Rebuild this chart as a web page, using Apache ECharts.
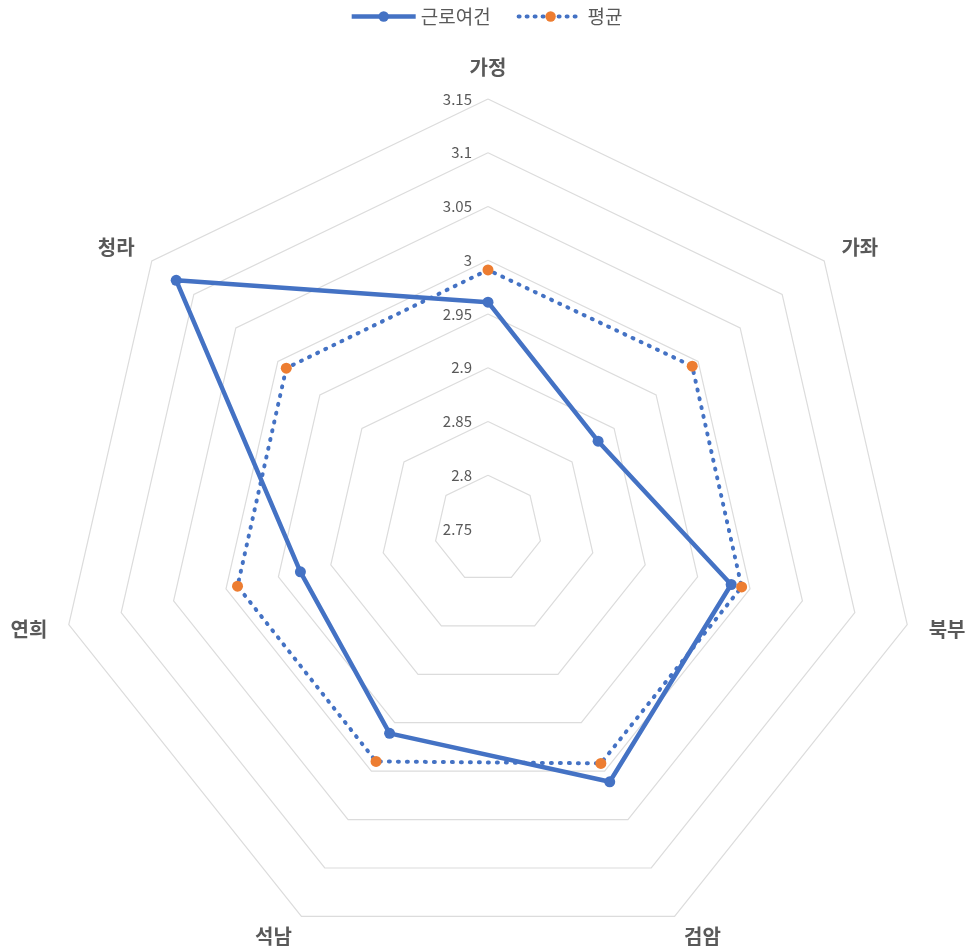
<!DOCTYPE html>
<html><head><meta charset="utf-8">
<script src="https://cdn.jsdelivr.net/npm/echarts@6/dist/echarts.min.js"></script>
<style>html,body{margin:0;padding:0;background:#fff}#c{width:972px;height:948px}</style>
</head><body><div id="c"></div>
<script>
// categories listed clockwise from the top
const categories = ['가정','가좌','북부','검암','석남','연희','청라'];
const workValues = [2.961, 2.881, 2.982, 3.011, 2.961, 2.929, 3.121];
const avgValues = [2.991, 2.993, 2.992, 2.992, 2.990, 2.989, 2.990];
const seriesNames = ['근로여건','평균'];
const axisMin = 2.75, axisMax = 3.15;

// ECharts radar runs counter-clockwise; reorder so the drawing goes clockwise
const cw = arr => [arr[0]].concat(arr.slice(1).reverse());

const FONT = '"Noto Sans CJK KR", "Noto Sans", sans-serif';
const BLUE = '#4472c4', ORANGE = '#ed7d31';
const chart = echarts.init(document.getElementById('c'));
chart.setOption({
  animation: false,
  textStyle: {fontFamily: FONT},
  legend: {
    top: 2, left: 'center', itemWidth: 64, itemHeight: 13, itemGap: 26,
    textStyle: {fontFamily: FONT, fontSize: 19, color: '#595959'},
    data: [
      {name: seriesNames[0], lineStyle: {width: 4.5}},
      {name: seriesNames[1], lineStyle: {width: 4}}
    ]
  },
  grid: {show: false, left: 0, top: 0, width: 1, height: 1},
  xAxis: {show: false, type: 'category', data: []},
  yAxis: {show: false, type: 'value'},
  radar: {
    center: [488, 529], radius: 430, startAngle: 90,
    shape: 'polygon', splitNumber: 8,
    axisName: {color: '#595959', fontSize: 20, fontWeight: 'bold', fontFamily: FONT},
    nameGap: 22,
    splitLine: {lineStyle: {color: '#dcdcdc', width: 1.2}},
    splitArea: {show: false},
    axisLine: {show: false},
    axisTick: {show: false},
    indicator: cw(categories).map((n, i) => ({
      name: n, min: axisMin, max: axisMax,
      axisLabel: i === 0 ? {show: true, color: '#595959', fontSize: 15, fontFamily: FONT,
        showMinLabel: true, showMaxLabel: true, margin: 16,
        formatter: v => String(+v.toFixed(2))} : {show: false}
    }))
  },
  series: [
    {name: seriesNames[0], type: 'line', data: [], symbol: 'circle', symbolSize: 11,
      lineStyle: {color: BLUE, width: 4.5}, itemStyle: {color: BLUE}},
    {name: seriesNames[1], type: 'line', data: [], symbol: 'circle', symbolSize: 11,
      lineStyle: {color: BLUE, width: 4, type: [1, 7], cap: 'round'}, itemStyle: {color: ORANGE}},
    {
      type: 'radar', z: 3,
      data: [
        {name: seriesNames[0], value: cw(workValues), symbol: 'circle', symbolSize: 11,
          lineStyle: {color: BLUE, width: 4.5}, itemStyle: {color: BLUE}},
        {name: seriesNames[1], value: cw(avgValues), symbol: 'circle', symbolSize: 11,
          lineStyle: {color: BLUE, width: 4, type: [1, 8], cap: 'round'}, itemStyle: {color: ORANGE}}
      ]
    }
  ]
});
</script></body></html>
